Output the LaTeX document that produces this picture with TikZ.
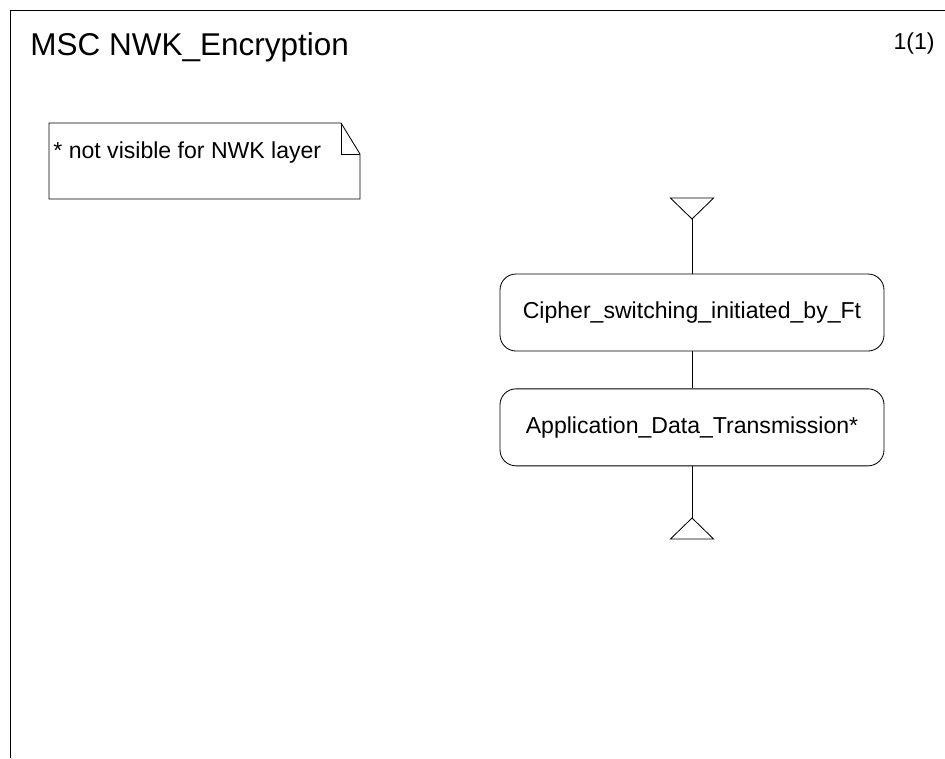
\documentclass[tikz,border=0pt]{standalone}
\usepackage{fontspec}
\setmainfont{Liberation Sans}
\usepackage{tikz}
\usetikzlibrary{positioning}

\begin{document}
\begin{tikzpicture}[refbox/.style={shape=rectangle,draw,rounded corners=0.4cm,minimum width=9.6cm,minimum height=1.925cm,font=\fontsize{16.4}{19}\selectfont},
		txt/.style={inner sep=0,font=\fontsize{16.4}{19}\selectfont}, line width=0.6pt, scale=1]
				\useasboundingbox (0,0) rectangle (23.625,18.95);
				\draw (0.25,0) -- (0.25,18.7) -- (23.625,18.7);
				\node[inner sep=0,anchor=base west,font=\fontsize{22.4}{26}\selectfont] (title) at (0.75,17.55) {MSC NWK\_Encryption};
				\node[txt,anchor=base east] (page) at (23.375,17.7) {1(1)};
				% comment box
				\draw (1.225,13.975) -- (1.225,15.875) -- (8.525,15.875) -- (9.0,15.1) -- (9.0,13.975) -- cycle;
				\draw (8.525,15.875) -- (8.525,15.1) -- (9.0,15.1);
				\node[txt,anchor=base west] (note) at (1.325,15.0) {* not visible for NWK layer};
				% references
				\node[refbox] (cipher) at (17.3,11.1375) {Cipher\_switching\_initiated\_by\_Ft};
				\node[refbox,below=0.925cm of cipher] (appdata) {Application\_Data\_Transmission*};
				\coordinate (start) at (17.3,13.475);
				\coordinate (stop) at (17.3,6.0);
				\draw (start) -- ++(-0.54,0.525) -- ++(1.08,0) -- cycle;
				\draw (stop) -- ++(-0.54,-0.525) -- ++(1.08,0) -- cycle;
				\draw[-] (start) to (cipher);
				\draw[-] (cipher) to (appdata);
				\draw[-] (appdata) to (stop);
			\end{tikzpicture}
\end{document}
